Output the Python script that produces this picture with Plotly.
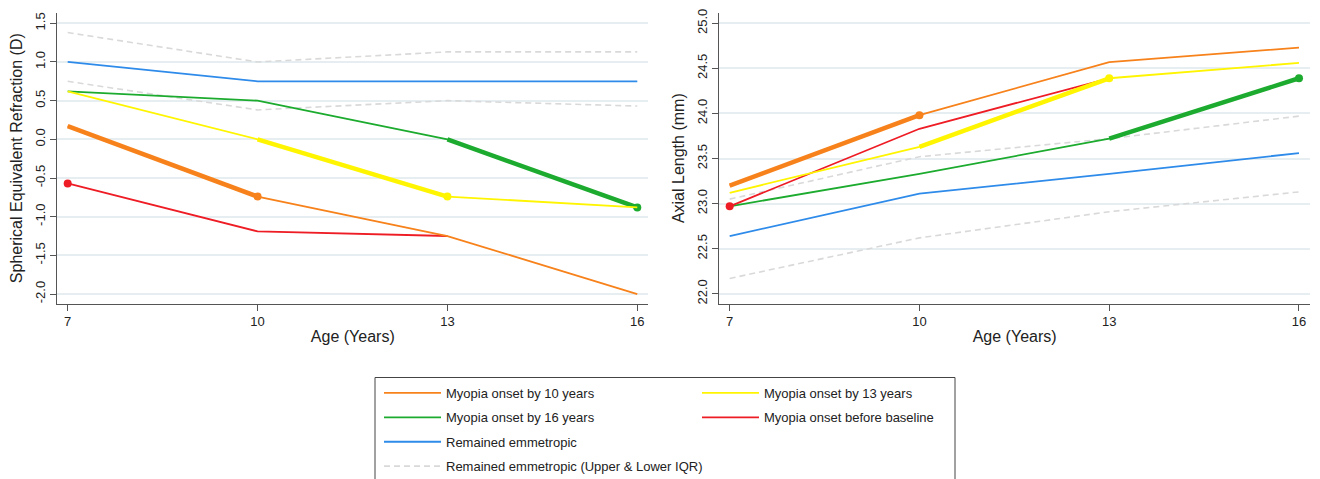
import plotly.graph_objects as go

# ---------------- data ----------------
AGES = [7, 10, 13, 16]

SER_ONSET10 = [0.17, -0.74, -1.25, -2.0]
SER_ONSET13 = [0.62, 0.0, -0.74, -0.88]
SER_ONSET16 = [0.62, 0.5, 0.0, -0.88]
SER_BEFORE = [-0.57, -1.19, -1.25, None]
SER_EMM = [1.0, 0.75, 0.75, 0.75]
SER_IQR_UP = [1.38, 1.0, 1.13, 1.13]
SER_IQR_LO = [0.75, 0.38, 0.5, 0.43]

AL_ONSET10 = [23.2, 23.98, 24.57, 24.73]
AL_ONSET13 = [23.12, 23.63, 24.39, 24.56]
AL_ONSET16 = [22.97, 23.33, 23.72, 24.39]
AL_BEFORE = [22.97, 23.83, 24.39, None]
AL_EMM = [22.64, 23.11, 23.33, 23.56]
AL_IQR_UP = [23.05, 23.52, 23.72, 23.97]
AL_IQR_LO = [22.17, 22.62, 22.91, 23.13]

# onset interval (index of start/end age of the highlighted segment) and onset marker index
ONSET10_SEG = [0, 1]
ONSET13_SEG = [1, 2]
ONSET16_SEG = [2, 3]
BEFORE_MARK = [0]

NAMES = ["Myopia onset by 10 years", "Myopia onset by 13 years",
         "Myopia onset by 16 years", "Myopia onset before baseline",
         "Remained emmetropic", "Remained emmetropic (Upper & Lower IQR)"]

SER_TICKVALS = [-2.0, -1.5, -1.0, -0.5, 0.0, 0.5, 1.0, 1.5]
SER_TICKTEXT = ["-2.0", "-1.5", "-1.0", "-0.5", "0.0", "0.5", "1.0", "1.5"]
AL_TICKVALS = [22.0, 22.5, 23.0, 23.5, 24.0, 24.5, 25.0]
AL_TICKTEXT = ["22.0", "22.5", "23.0", "23.5", "24.0", "24.5", "25.0"]
X_TICKVALS = [7, 10, 13, 16]
X_TICKTEXT = ["7", "10", "13", "16"]

# ---------------- styles ----------------
C_OR = "#F7821B"
C_YE = "#FFF500"
C_GR = "#1CAB2E"
C_RE = "#EE1C24"
C_BL = "#2E8BEA"
C_IQR = "#D9D9D9"
FONT = "Liberation Sans, Arial, sans-serif"
W, H = 1320, 479

fig = go.Figure()


def add_panel(xa, ya, series, show_legend):
    (o10, o13, o16, bef, emm, up, lo) = series
    # IQR dashed
    for i, arr in enumerate([up, lo]):
        fig.add_trace(go.Scatter(x=AGES, y=arr, mode="lines", xaxis=xa, yaxis=ya,
                                 line=dict(color=C_IQR, width=1.6, dash="6px,4px"),
                                 name=NAMES[5], showlegend=show_legend and i == 0,
                                 legend="legend", legendrank=6, legendgroup="g6",
                                 hoverinfo="skip"))
    fig.add_trace(go.Scatter(x=AGES, y=emm, mode="lines", xaxis=xa, yaxis=ya,
                             line=dict(color=C_BL, width=1.8), name=NAMES[4],
                             showlegend=show_legend, legend="legend", legendrank=5,
                             legendgroup="g5"))
    specs = [(o16, C_GR, NAMES[2], ONSET16_SEG, "legend", 2),
             (bef, C_RE, NAMES[3], None, "legend2", 4),
             (o13, C_YE, NAMES[1], ONSET13_SEG, "legend2", 3),
             (o10, C_OR, NAMES[0], ONSET10_SEG, "legend", 1)]
    for arr, col, name, seg, lg, rank in specs:
        fig.add_trace(go.Scatter(x=AGES, y=arr, mode="lines", xaxis=xa, yaxis=ya,
                                 line=dict(color=col, width=1.8), name=name,
                                 showlegend=show_legend, legend=lg, legendrank=rank,
                                 legendgroup="g%d" % rank, connectgaps=False))
        if seg is not None:
            fig.add_trace(go.Scatter(x=[AGES[i] for i in seg], y=[arr[i] for i in seg],
                                     mode="lines", xaxis=xa, yaxis=ya,
                                     line=dict(color=col, width=4.5), showlegend=False,
                                     legend=lg, legendgroup="g%d" % rank))
            mi = seg[1]
        else:
            mi = BEFORE_MARK[0]
        fig.add_trace(go.Scatter(x=[AGES[mi]], y=[arr[mi]], mode="markers", xaxis=xa, yaxis=ya,
                                 marker=dict(color=col, size=8), showlegend=False,
                                 legend=lg, legendgroup="g%d" % rank))


add_panel("x", "y", (SER_ONSET10, SER_ONSET13, SER_ONSET16, SER_BEFORE, SER_EMM,
                     SER_IQR_UP, SER_IQR_LO), True)
add_panel("x2", "y2", (AL_ONSET10, AL_ONSET13, AL_ONSET16, AL_BEFORE, AL_EMM,
                       AL_IQR_UP, AL_IQR_LO), False)

AX_COL = "#555555"
GRID = "#E6EEF2"
TICKF = dict(family=FONT, size=13, color="#222")
TITLEF = dict(family=FONT, size=16, color="#222")

ydom = [1 - 303.7 / H, 1 - 12.7 / H]
xbase = dict(range=[6.836, 16.174], tickvals=X_TICKVALS, ticktext=X_TICKTEXT,
             ticks="outside", ticklen=6, tickcolor=AX_COL, tickwidth=1,
             showline=True, linecolor=AX_COL, linewidth=1.2, showgrid=False,
             zeroline=False, tickfont=TICKF, fixedrange=True, automargin=False)
ybase = dict(ticks="outside", ticklen=6, tickcolor=AX_COL, tickwidth=1,
             showline=True, linecolor=AX_COL, linewidth=1.2, showgrid=True,
             gridcolor=GRID, gridwidth=1.5, zeroline=False, tickfont=TICKF,
             tickangle=-90, domain=ydom, fixedrange=True, automargin=False)

LEGF = dict(family=FONT, size=13, color="#222")
fig.update_layout(
    width=W, height=H,
    margin=dict(l=0, r=0, t=0, b=0, autoexpand=False),
    paper_bgcolor="white", plot_bgcolor="white",
    font=dict(family=FONT),
    xaxis=dict(xbase, domain=[57.3 / W, 648.3 / W], anchor="y",
               title=dict(text="Age (Years)", font=TITLEF, standoff=2)),
    xaxis2=dict(xbase, domain=[719.3 / W, 1310 / W], anchor="y2",
                title=dict(text="Age (Years)", font=TITLEF, standoff=2)),
    yaxis=dict(ybase, range=[-2.125, 1.637], tickvals=SER_TICKVALS, ticktext=SER_TICKTEXT,
               anchor="x", title=dict(text="Spherical Equivalent Refraction (D)", font=TITLEF,
                                      standoff=6)),
    yaxis2=dict(ybase, range=[21.89, 25.117], tickvals=AL_TICKVALS, ticktext=AL_TICKTEXT,
                anchor="x2", title=dict(text="Axial Length (mm)", font=TITLEF, standoff=6)),
    legend=dict(x=379 / W, y=1 - 378 / H, xanchor="left", yanchor="top",
                orientation="v", itemwidth=57, font=LEGF,
                bgcolor="rgba(0,0,0,0)", tracegroupgap=4.5, traceorder="grouped"),
    legend2=dict(x=697 / W, y=1 - 378 / H, xanchor="left", yanchor="top",
                 orientation="v", itemwidth=57, font=LEGF,
                 bgcolor="rgba(0,0,0,0)", tracegroupgap=4.5, traceorder="grouped"),
    shapes=[dict(type="rect", xref="paper", yref="paper", x0=375 / W, x1=955 / W,
                 y0=-0.05, y1=1 - 377.5 / H, line=dict(color="#444", width=1),
                 fillcolor="rgba(0,0,0,0)", layer="below")],
    hovermode=False,
)

fig.write_html("out.html", config={"displayModeBar": False},
               post_script="document.body.style.margin='0';document.body.style.overflow='hidden';")
